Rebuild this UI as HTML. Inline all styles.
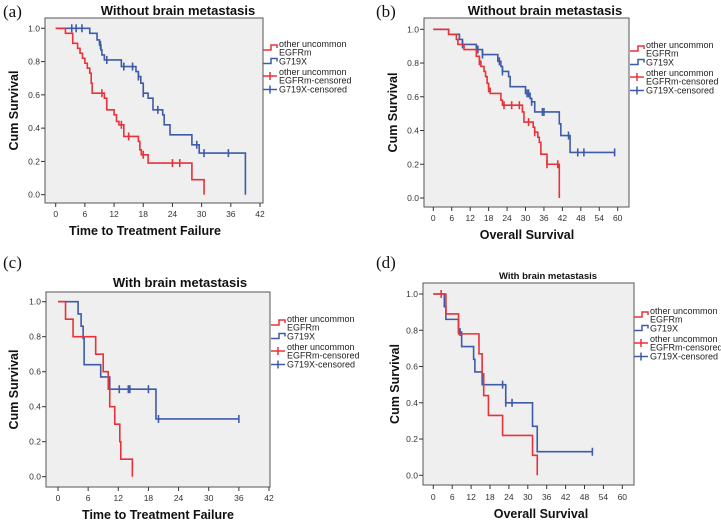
<!DOCTYPE html>
<html><head><meta charset="utf-8"><style>
html,body{margin:0;padding:0;background:#fff;}
svg{display:block;font-family:"Liberation Sans",Arial,sans-serif;}
.lbl{font-family:"Liberation Serif",serif;font-size:17px;fill:#111;}
</style></head><body>
<svg id="fig" width="721" height="523" viewBox="0 0 721 523" xmlns="http://www.w3.org/2000/svg"></svg>
<script>
// ---- data (time, survival after step) ----
const aRedT=[2,3.5,4.5,5,5.5,6,6.5,7,7.3,7.5,10,10.5,12,12.5,13,14,17,17.3,17.6,19,28,30.5];
const aRedS=[0.97,0.91,0.88,0.85,0.82,0.79,0.76,0.73,0.67,0.61,0.58,0.51,0.48,0.44,0.42,0.35,0.32,0.27,0.24,0.19,0.09,0];
const aRedCT=[9.5,13.5,15,18,24,25.5];
const aBluT=[7,8.5,9,9.3,9.5,10,13.5,16.5,17,17.5,18,19,20,22,22.3,23.5,28,29.5,39];
const aBluS=[0.97,0.93,0.9,0.87,0.84,0.81,0.77,0.74,0.71,0.67,0.61,0.58,0.51,0.48,0.42,0.36,0.3,0.25,0];
const aBluCT=[3.3,4.2,5.4,9.2,10.5,14,15.8,17,18,21,29,30.5,35.5];

const bRedT=[5,7.5,8,10,14,15,15.5,16.5,17,17.5,18,18.5,22,22.5,29,29.5,32.5,33,34,34.5,35,37,41];
const bRedS=[0.97,0.94,0.91,0.88,0.84,0.81,0.78,0.75,0.72,0.68,0.65,0.62,0.58,0.55,0.51,0.45,0.42,0.39,0.36,0.33,0.26,0.2,0];
const bRedCT=[15,18,23,25.5,28,31,33,37,40.5];
const bBluT=[5,8.5,9.5,14,16,21,22,22.5,24.5,25,30,31.5,32,33,41,41.5,44.5];
const bBluS=[0.97,0.94,0.91,0.88,0.85,0.81,0.78,0.75,0.72,0.66,0.62,0.59,0.57,0.51,0.44,0.37,0.27];
const bBluCT=[9.5,14.5,16,21.5,22.5,30.5,31,32,35.5,36,44,47,49,59];

const cRedT=[1.5,3,7.5,9,10,10.3,11.3,12.3,12.5,14.8];
const cRedS=[0.9,0.8,0.7,0.6,0.5,0.4,0.3,0.2,0.1,0];
const cRedCT=[];
const cBluT=[4,4.6,5,5.2,8.5,10.3,19.5];
const cBluS=[0.93,0.86,0.79,0.64,0.57,0.5,0.33];
const cBluCT=[12.2,14,14.3,18,20,36];

const dRedT=[4,8,14.5,15.5,16,17.5,22,31.5,33];
const dRedS=[0.89,0.78,0.67,0.56,0.44,0.33,0.22,0.11,0];
const dRedCT=[2.5];
const dBluT=[3.5,4,8,9,12.8,13.2,15.5,23,31.5,33];
const dBluS=[0.93,0.86,0.79,0.71,0.64,0.57,0.5,0.4,0.27,0.13];
const dBluCT=[8.5,22,23,25,50.5];

const yTicks=[0,0.2,0.4,0.6,0.8,1.0];
const xTicks42=[0,6,12,18,24,30,36,42];
const xTicks60=[0,6,12,18,24,30,36,42,48,54,60];

const RED="#e8323a", BLUE="#3d5ba8";
const NS="http://www.w3.org/2000/svg";
const svg=document.getElementById('fig');
function mk(tag,attrs,parent,text){const e=document.createElementNS(NS,tag);for(const k in attrs)e.setAttribute(k,attrs[k]);if(text!==undefined)e.textContent=text;(parent||svg).appendChild(e);return e;}

function survAt(T,S,t){let s=1;for(let i=0;i<T.length;i++){if(T[i]<=t)s=S[i];}return s;}

function panel(p){
  const g=mk('g',{});
  
  
  const X=v=>p.x0+(v-0)*(p.x1-p.x0)/p.xmax;
  const Y=v=>p.y0+(1-v)*(p.y1-p.y0);
  const box=mk('rect',{x:p.bx,y:p.by,width:p.bw,height:p.bh,fill:'#efefef',stroke:'#555','stroke-width':1},g);
  
  
  const pl=mk('text',{x:p.lx,y:p.ly,class:'lbl'},g,'('+p.id+')');
  
  
  const tt=mk('text',{x:p.tx,y:p.ty,'text-anchor':'middle','font-size':p.tfs,'font-weight':'bold',fill:'#111'},g,p.title);
  
  
  yTicks.forEach(v=>{
    const l=mk('line',{x1:p.bx-4,x2:p.bx,y1:Y(v),y2:Y(v),stroke:'#333'},g);
    
    
    const t=mk('text',{x:p.bx-5,y:Y(v)+3,'text-anchor':'end','font-size':8.5,fill:'#333'},g,v.toFixed(1));
    
    
  });
  p.xt.forEach(v=>{
    const l=mk('line',{x1:X(v),x2:X(v),y1:p.by+p.bh,y2:p.by+p.bh+4,stroke:'#333'},g);
    
    
    const t=mk('text',{x:X(v),y:p.xly,'text-anchor':'middle','font-size':8.5,fill:'#333'},g,String(v));
    
    
  });
  const yl=mk('text',{x:0,y:0,transform:`translate(${p.ylx},${p.by+p.bh/2}) rotate(-90)`,'text-anchor':'middle','font-size':12.5,'font-weight':'bold',fill:'#111'},g,'Cum Survival');
  
  
  const xl=mk('text',{x:p.xtx,y:p.xty,'text-anchor':'middle','font-size':12.5,'font-weight':'bold',fill:'#111'},g,p.xtitle);
  
  
  [[p.bT,p.bS,p.bC,BLUE,'g719x'],[p.rT,p.rS,p.rC,RED,'other-egfrm']].forEach(([T,S,C,col,nm])=>{
    let d=`M${X(0)},${Y(1)}`;let s=1;
    for(let i=0;i<T.length;i++){d+=` H${X(T[i])} V${Y(S[i])}`;s=S[i];}
    const last=Math.max(T.length?T[T.length-1]:0,C.length?Math.max(...C):0);
    if(s>0)d+=` H${X(last)}`;
    const path=mk('path',{d:d,fill:'none',stroke:col,'stroke-width':1.6},g);
    
    
    C.forEach(c=>{
      const v=survAt(T,S,c);
      const m=mk('line',{x1:X(c),x2:X(c),y1:Y(v)-4,y2:Y(v)+4,stroke:col,'stroke-width':1.6},g);
      
      
    });
  });
  const ents=[['other uncommon','EGFRm',RED,0],['G719X','',BLUE,0],['other uncommon','EGFRm-censored',RED,1],['G719X-censored','',BLUE,1]];
  let ly=p.legY;
  ents.forEach(([a,b,col,cens])=>{
    const lg=mk('g',{},g);
    
    
    const ix=p.legX, yy=ly+(b?4:0);
    if(!cens) mk('path',{d:`M${ix},${yy+2} H${ix+8} V${yy-3} H${ix+14} V${yy}`,fill:'none',stroke:col,'stroke-width':1.5},lg);
    else {mk('line',{x1:ix,x2:ix+14,y1:yy,y2:yy,stroke:col,'stroke-width':1.5},lg);mk('line',{x1:ix+7,x2:ix+7,y1:yy-4,y2:yy+4,stroke:col,'stroke-width':1.5},lg);}
    mk('text',{x:ix+16,y:ly+3,'font-size':9,fill:'#222'},lg,a);
    if(b) mk('text',{x:ix+16,y:ly+11.5,'font-size':9,fill:'#222'},lg,b);
    ly+= b?17.5:10.5;
  });
}
panel({id:'a',bx:45,by:18,bw:218,bh:185,x0:55.7,x1:260,xmax:42,y0:28.3,y1:194.7,xt:xTicks42,xly:217,
  lx:3,ly:17,tx:178,ty:15,tfs:13,title:'Without brain metastasis',ylx:18,xtx:145,xty:235,xtitle:'Time to Treatment Failure',
  rT:aRedT,rS:aRedS,rC:aRedCT,bT:aBluT,bS:aBluS,bC:aBluCT,legX:263,legY:44});
panel({id:'b',bx:424,by:18,bw:205,bh:189,x0:433.3,x1:617.7,xmax:60,y0:29.3,y1:198,xt:xTicks60,xly:221,
  lx:376,ly:17,tx:545,ty:15,tfs:13,title:'Without brain metastasis',ylx:397,xtx:527,xty:239,xtitle:'Overall Survival',
  rT:bRedT,rS:bRedS,rC:bRedCT,bT:bBluT,bS:bBluS,bC:bBluCT,legX:630,legY:45});
panel({id:'c',bx:46,by:292,bw:224,bh:195,x0:58,x1:269,xmax:42,y0:301.7,y1:476.7,xt:xTicks42,xly:501,
  lx:3,ly:268,tx:180,ty:287,tfs:13,title:'With brain metastasis',ylx:18,xtx:158,xty:519,xtitle:'Time to Treatment Failure',
  rT:cRedT,rS:cRedS,rC:cRedCT,bT:cBluT,bS:cBluS,bC:cBluCT,legX:271,legY:319});
panel({id:'d',bx:423,by:283,bw:211,bh:202,x0:433.3,x1:622.3,xmax:60,y0:294,y1:475.3,xt:xTicks60,xly:500,
  lx:376,ly:268,tx:548,ty:279,tfs:9.5,title:'With brain metastasis',ylx:399,xtx:541,xty:518,xtitle:'Overall Survival',
  rT:dRedT,rS:dRedS,rC:dRedCT,bT:dBluT,bS:dBluS,bC:dBluCT,legX:634,legY:311});
</script>
</body></html>
